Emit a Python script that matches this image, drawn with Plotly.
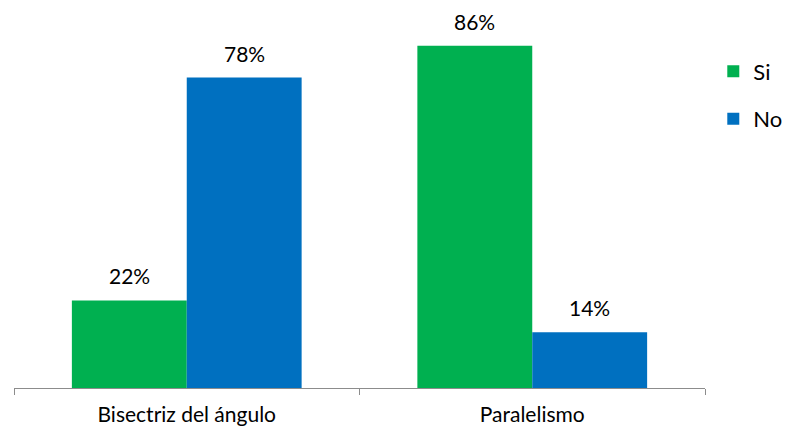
import plotly.graph_objects as go

categories = ["Bisectriz del ángulo", "Paralelismo"]
si_values = [22, 86]
no_values = [78, 14]
series_names = ["Si", "No"]

font_family = "Lato, Open Sans, sans-serif"
colors = ["#00B050", "#0070C0"]

fig = go.Figure()
for name, vals, color in zip(series_names, [si_values, no_values], colors):
    fig.add_trace(go.Bar(
        name=name, x=categories, y=vals,
        marker=dict(color=color, line=dict(width=0)),
        offsetgroup=name, legendgroup=name,
    ))

# value labels above each bar, slightly lifted from the bar top
for vals, off in [(si_values, -0.5), (no_values, 0.5)]:
    for j, v in enumerate(vals):
        fig.add_annotation(
            x=j + off * 0.3325, y=v, xref="x", yref="y",
            text=f"{v}%", showarrow=False, yanchor="bottom", yshift=10,
            font=dict(size=21, color="#000000", family=font_family),
        )

fig.update_layout(
    width=788, height=431,
    margin=dict(l=14, r=83, t=0, b=43, autoexpand=False),
    paper_bgcolor="white", plot_bgcolor="white",
    barmode="group", bargap=0.335, bargroupgap=0,
    font=dict(family=font_family, size=21, color="#000000"),
    showlegend=True,
    legend=dict(x=1.012, y=0.87, xanchor="left", yanchor="top",
                font=dict(size=22), itemsizing="constant",
                tracegroupgap=16),
    xaxis=dict(showline=True, linecolor="#8c8c8c", linewidth=1,
               ticks="outside", tickson="boundaries", ticklen=6,
               tickcolor="#8c8c8c", tickfont=dict(size=21), showgrid=False,
               ticklabelstandoff=8, range=[-0.5, 1.5]),
    yaxis=dict(range=[0, 97.5], visible=False, showgrid=False),
)

fig.write_html("out.html")
